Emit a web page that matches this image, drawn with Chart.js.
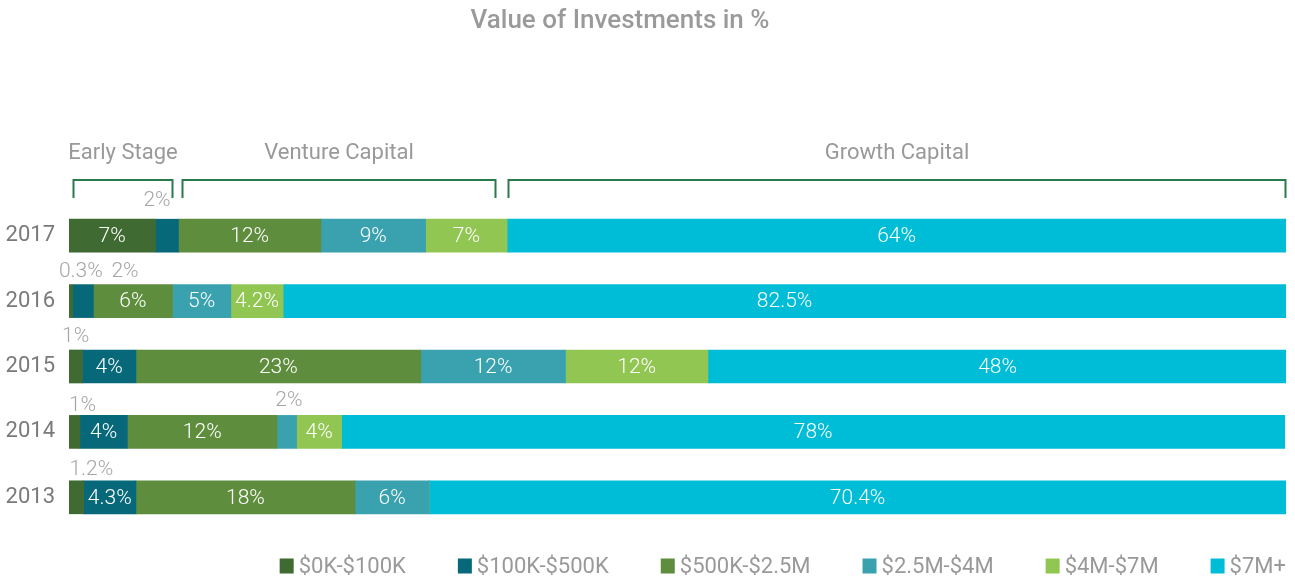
<!DOCTYPE html>
<html>
<head>
<meta charset="utf-8">
<script src="https://cdn.jsdelivr.net/npm/chart.js@4/dist/chart.umd.min.js"></script>
<style>
  html, body { margin: 0; padding: 0; background: #fff; }
  #wrap { width: 1295px; height: 578px; }
</style>
</head>
<body>
<div id="wrap"><canvas id="myChart" width="1295" height="578"></canvas></div>
<script>
// Years, top to bottom
const years = ['2017', '2016', '2015', '2014', '2013'];

// Investment size bands
const bands = ['$0K-$100K', '$100K-$500K', '$500K-$2.5M', '$2.5M-$4M', '$4M-$7M', '$7M+'];
const bandColors = ['#3f6a32', '#07687a', '#5f8d3e', '#3aa1ae', '#92c653', '#00bdd7'];

// Share of value per band (segment widths)
const v0K = [7.1, 0.3, 1.1, 0.9, 1.2];
const v100K = [1.9, 1.7, 4.4, 3.9, 4.3];
const v500K = [11.7, 6.5, 23.4, 12.3, 18];
const v2500K = [8.6, 4.8, 11.9, 1.6, 6.1];
const v4M = [6.7, 4.3, 11.7, 3.7, 0];
const v7M = [64, 82.4, 47.6, 77.5, 70.4];

// Printed labels on each segment
const t0K = ['7%', '0.3%', '1%', '1%', '1.2%'];
const t100K = ['2%', '2%', '4%', '4%', '4.3%'];
const t500K = ['12%', '6%', '23%', '12%', '18%'];
const t2500K = ['9%', '5%', '12%', '2%', '6%'];
const t4M = ['7%', '4.2%', '12%', '4%', ''];
const t7M = ['64%', '82.5%', '48%', '78%', '70.4%'];

// Stage groupings above the bars (range on the % axis)
const stages = ['Early Stage', 'Venture Capital', 'Growth Capital'];
const stageFrom = [0.33, 9.3, 36.1];
const stageTo = [8.55, 35.1, 100];

const values = [v0K, v100K, v500K, v2500K, v4M, v7M];
const texts = [t0K, t100K, t500K, t2500K, t4M, t7M];

const FONT = "'Roboto', 'DejaVu Sans', sans-serif";

// nudges for the small labels placed above the bar: key "dataset-row"
const outsideNudge = {
    '1-0': [-10, -18],
    '0-1': [10, -13],
    '1-1': [42, -13],
    '0-2': [0, -13],
    '0-3': [8, -10],
    '3-3': [2, -15],
    '0-4': [15, -11]
};

const extras = {
    id: 'extras',
    afterDatasetsDraw(chart) {
        const ctx = chart.ctx;
        const xs = chart.scales.x;
        ctx.save();
        ctx.textBaseline = 'middle';
        ctx.textAlign = 'center';

        // segment labels
        chart.data.datasets.forEach((ds, di) => {
            const meta = chart.getDatasetMeta(di);
            meta.data.forEach((bar, i) => {
                const txt = texts[di][i];
                if (!txt) return;
                const left = Math.min(bar.x, bar.base);
                const w = Math.abs(bar.x - bar.base);
                const cx = left + w / 2;
                ctx.font = '300 21px ' + FONT;
                if (w >= 30) {
                    ctx.fillStyle = '#ffffff';
                    ctx.fillText(txt, cx, bar.y + 1);
                } else {
                    const n = outsideNudge[di + '-' + i] || [0, -13];
                    ctx.fillStyle = '#a6a6a6';
                    ctx.fillText(txt, cx + n[0], bar.y - bar.height / 2 + n[1]);
                }
            });
        });

        // stage brackets
        ctx.strokeStyle = '#2a7a4d';
        ctx.lineWidth = 2;
        stages.forEach((name, k) => {
            const x1 = Math.round(xs.getPixelForValue(stageFrom[k])) + 0.5;
            const x2 = Math.round(xs.getPixelForValue(stageTo[k])) - 0.5;
            ctx.beginPath();
            ctx.moveTo(x1, 198);
            ctx.lineTo(x1, 180);
            ctx.lineTo(x2, 180);
            ctx.lineTo(x2, 198);
            ctx.stroke();
            ctx.font = '22px ' + FONT;
            ctx.fillStyle = '#999999';
            ctx.fillText(name, (x1 + x2) / 2, 153);
        });

        // title
        ctx.font = '500 26px ' + FONT;
        ctx.fillStyle = '#9a9a9a';
        ctx.fillText('Value of Investments in %', 620, 21);

        // legend, right-aligned to the plot
        ctx.font = '22px ' + FONT;
        const box = 15, gapText = 4, gapItem = 52;
        const widths = bands.map(b => box + gapText + ctx.measureText(b).width);
        const total = widths.reduce((a, b) => a + b, 0) + gapItem * (bands.length - 1);
        let lx = chart.chartArea.right - total;
        const ly = 566;
        ctx.textAlign = 'left';
        bands.forEach((b, k) => {
            ctx.fillStyle = bandColors[k];
            ctx.fillRect(lx, ly - box / 2, box - 1, box);
            ctx.fillStyle = '#999999';
            ctx.fillText(b, lx + box + gapText, ly + 1);
            lx += widths[k] + gapItem;
        });
        ctx.restore();
    }
};

const ctx = document.getElementById('myChart').getContext('2d');
new Chart(ctx, {
    type: 'bar',
    data: {
        labels: years,
        datasets: bands.map((b, k) => ({
            label: b,
            data: values[k],
            backgroundColor: bandColors[k],
            borderWidth: 0,
            barThickness: 33
        }))
    },
    options: {
        indexAxis: 'y',
        responsive: false,
        animation: false,
        devicePixelRatio: 1,
        layout: { padding: { top: 203, right: 9, bottom: 48, left: 0 } },
        plugins: {
            legend: { display: false },
            title: { display: false },
            tooltip: { enabled: false }
        },
        scales: {
            x: { stacked: true, min: 0, max: 100, display: false },
            y: {
                stacked: true,
                grid: { display: false, drawTicks: false },
                border: { display: false },
                ticks: { color: '#7a7a7a', font: { family: FONT, size: 22 }, padding: 14 },
                afterFit(scale) { scale.width = 69; }
            }
        }
    },
    plugins: [extras]
});
</script>
</body>
</html>
